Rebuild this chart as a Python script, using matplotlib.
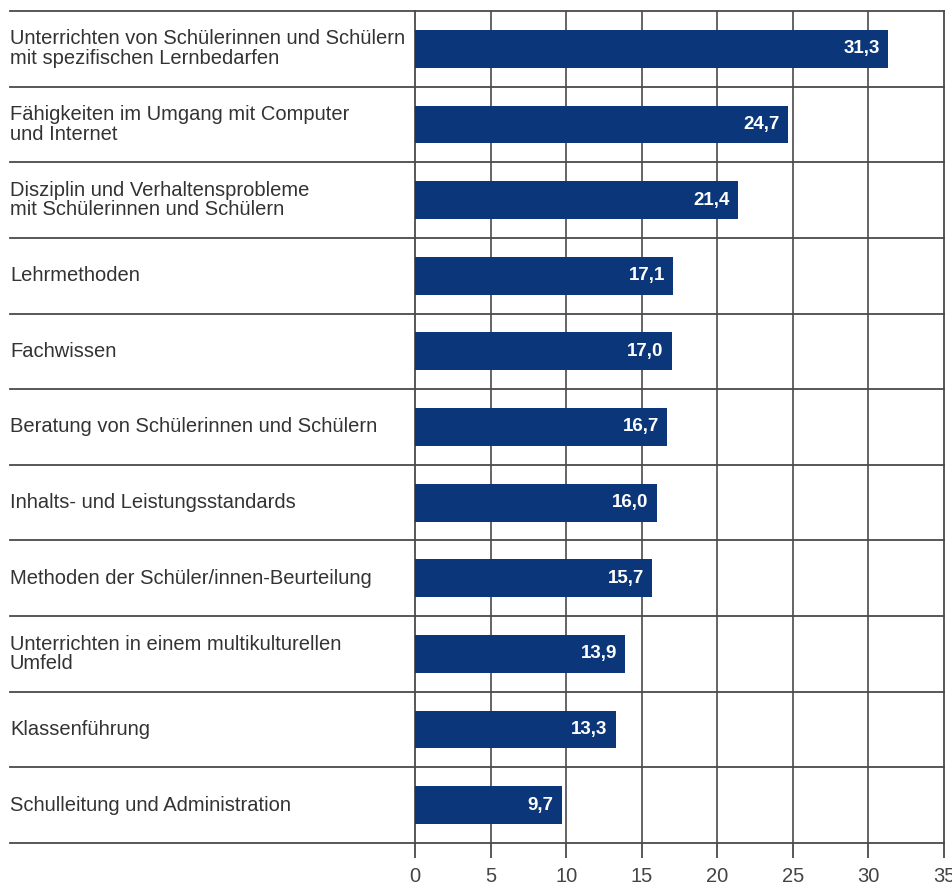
import matplotlib
matplotlib.use("Agg")
import matplotlib.pyplot as plt
from matplotlib.transforms import blended_transform_factory

categories = [
    "Unterrichten von Schülerinnen und Schülern\nmit spezifischen Lernbedarfen",
    "Fähigkeiten im Umgang mit Computer\nund Internet",
    "Disziplin und Verhaltensprobleme\nmit Schülerinnen und Schülern",
    "Lehrmethoden",
    "Fachwissen",
    "Beratung von Schülerinnen und Schülern",
    "Inhalts- und Leistungsstandards",
    "Methoden der Schüler/innen-Beurteilung",
    "Unterrichten in einem multikulturellen\nUmfeld",
    "Klassenführung",
    "Schulleitung und Administration",
]
values = [31.3, 24.7, 21.4, 17.1, 17.0, 16.7, 16.0, 15.7, 13.9, 13.3, 9.7]
xticks = [0, 5, 10, 15, 20, 25, 30, 35]

plt.rcParams['font.family'] = ['Liberation Sans', 'DejaVu Sans']

W, H = 953, 885
fig = plt.figure(figsize=(W / 100, H / 100), dpi=100)
x0, x1 = 415, 944
y0, y1 = 11, 843
ax = fig.add_axes([x0 / W, (H - y1) / H, (x1 - x0) / W, (y1 - y0) / H])

bar_color = "#0b3679"
line_color = "#4a4a4a"
n = len(categories)
ypos = list(range(n))

ax.barh(ypos, values, height=0.5, color=bar_color, zorder=3)
ax.set_xlim(0, 35)
ax.set_ylim(n - 0.5, -0.5)

for x in xticks[1:-1]:
    ax.axvline(x, color=line_color, lw=1.2, zorder=1)

for k in range(n + 1):
    ax.axhline(k - 0.5, xmin=(10 - x0) / (x1 - x0), xmax=1, color=line_color,
               lw=1.3, clip_on=False, zorder=2)

for s in ["left", "right"]:
    ax.spines[s].set_color(line_color)
    ax.spines[s].set_linewidth(1.3)
ax.spines["top"].set_visible(False)
ax.spines["bottom"].set_visible(False)

ax.set_yticks([])
ax.set_xticks(xticks)
ax.set_xticklabels([str(t) for t in xticks])
ax.tick_params(axis="x", length=11, width=1.3, color=line_color, pad=6,
               labelsize=14.5, labelcolor="#444444")

trans = blended_transform_factory(fig.transFigure, ax.transData)
for i, (c, v) in enumerate(zip(categories, values)):
    ax.text(10 / W, i, c, transform=trans, ha="left", va="center",
            fontsize=14.5, color="#333333", linespacing=1.05)
    ax.annotate(f"{v:.1f}".replace(".", ","), xy=(v, i), xytext=(-6, 0),
                textcoords="offset points", ha="right", va="center",
                color="white", fontsize=13.5, fontweight="bold", zorder=4)

fig.savefig("out.png", dpi=100)
